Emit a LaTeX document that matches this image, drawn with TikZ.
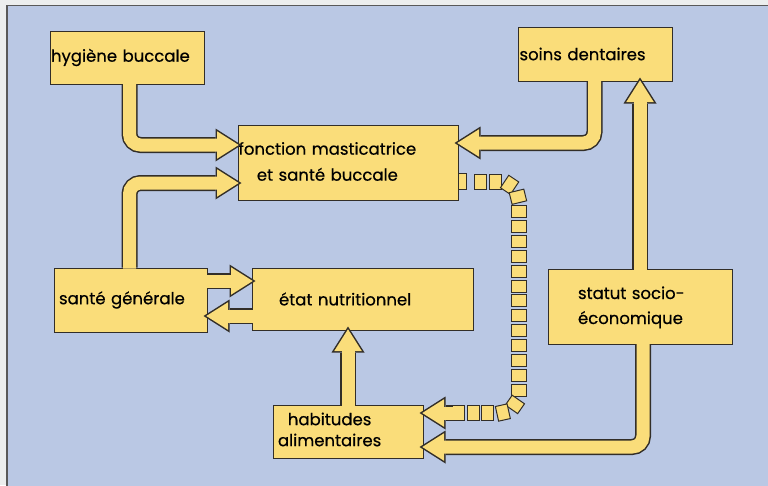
\documentclass[tikz,border=0pt]{standalone}
\usepackage{fontspec}
\setmainfont{Poppins}[FakeBold=0.5]
\usetikzlibrary{arrows.meta, positioning, calc, decorations.markings}

\definecolor{panelblue}{RGB}{186,200,228}
\definecolor{pagewhite}{RGB}{236,238,238}
\definecolor{boxyellow}{RGB}{250,221,122}
\definecolor{inkdark}{RGB}{50,46,40}

\tikzstyle{box} = [draw=inkdark, fill=boxyellow, line width=1pt, inner ysep=0pt, align=left, font=\fontsize{16.5}{26}\selectfont]
\tikzstyle{fatarrow} = [draw=boxyellow, line width=13pt, rounded corners=11pt,
  shorten <=-1pt, shorten >=-1.2pt, -{Triangle[length=21.7pt, width=27.5pt, line width=0pt]},
  preaction={draw=inkdark, line width=16pt, shorten <=0pt, shorten >=-4pt, -{Triangle[length=26pt, width=33pt, line width=0pt]}}]
\tikzstyle{chainlink} = [draw=inkdark, fill=boxyellow, line width=1pt, sharp corners, inner sep=0pt, minimum width=12pt, minimum height=15pt, transform shape]
\tikzstyle{chain} = [rounded corners=20pt, decoration={markings,
  mark=between positions 0.042 and 0.985 step 0.0448 with {\node[chainlink] {};}}, postaction={decorate}]

\begin{document}
\begin{tikzpicture}[x=1pt, y=-1pt]
  \useasboundingbox (0,0) rectangle (768,485);
  \fill[pagewhite] (0,0) rectangle (768,485);
  \fill[panelblue] (6,5) rectangle (772,489);
  \draw[gray!70!black, line width=1.5pt] (7,489) -- (7,5.5) -- (772,5.5);

  \node[box, minimum width=154pt, minimum height=53pt, text width=152pt, inner xsep=1pt] (hyg) at (127,57.5) {hygiène buccale};
  \node[box, minimum width=154pt, minimum height=54pt, text width=151pt, inner xsep=1.5pt] (soins) at (595,54) {soins dentaires};
  \node[box, minimum width=220pt, minimum height=75pt, text width=219pt, inner xsep=0.5pt] (fonc) at (348,162.5)
    {\begin{tabular}{@{}c@{}}fonction masticatrice\\ et santé buccale\end{tabular}};
  \node[box, minimum width=153pt, minimum height=64pt, text width=143pt, inner xsep=5pt] (sante) at (130.5,300) {santé générale};
  \node[box, minimum width=221pt, minimum height=62pt, text width=167pt, inner xsep=27pt] (etat) at (362.5,299) {état nutritionnel};
  \node[box, minimum width=184pt, minimum height=75pt, text width=124pt, inner xsep=30pt,
    font=\fontsize{16.5}{25}\selectfont] (statut) at (640,306.5)
    {\begin{tabular}{@{}l@{}}statut socio-\\ économique\end{tabular}};
  \node[box, minimum width=150pt, minimum height=53pt, text width=140pt, inner xsep=5pt,
    font=\fontsize{16.5}{21}\selectfont] (habit) at (348,431.5)
    {\begin{tabular}{@{}c@{}}habitudes\\ alimentaires\end{tabular}};

  \draw[fatarrow] ($(hyg.south west)+(80,0)$) |- ($(fonc.west)+(0,-17.5)$);
  \draw[fatarrow] ($(sante.north west)+(76,0)$) |- ($(fonc.west)+(0,20.5)$);
  \draw[fatarrow] ($(soins.south west)+(77,0)$) |- ($(fonc.east)+(0,-19.5)$);
  \draw[fatarrow] (statut.north) -- (statut.north |- soins.south);
  \draw[fatarrow] ($(statut.south)+(3,0)$) |- ($(habit.east)+(0,15.5)$);
  \draw[fatarrow] ($(sante.east)+(0,-19)$) -- ($(etat.west)+(0,-18)$);
  \draw[fatarrow] ($(etat.west)+(0,17)$) -- ($(sante.east)+(0,16)$);
  \draw[fatarrow] (habit.north) -- (habit.north |- etat.south);

  % lien en pointillés carrés
  \coordinate (chaincol) at ($(fonc.east)+(60,19)$);
  \coordinate (chainend) at ($(habit.east)+(29,-18.5)$);
  \draw[draw=inkdark, fill=boxyellow, line width=1pt] ($(fonc.east)+(0,11)$) rectangle ($(fonc.east)+(8,27)$);
  \path[chain] ($(fonc.east)+(8,19)$) -- (chaincol) -- (chaincol |- chainend) -- (chainend);
  \draw[fatarrow] (chainend) -- ($(habit.east)+(0,-18.5)$);
\end{tikzpicture}
\end{document}
